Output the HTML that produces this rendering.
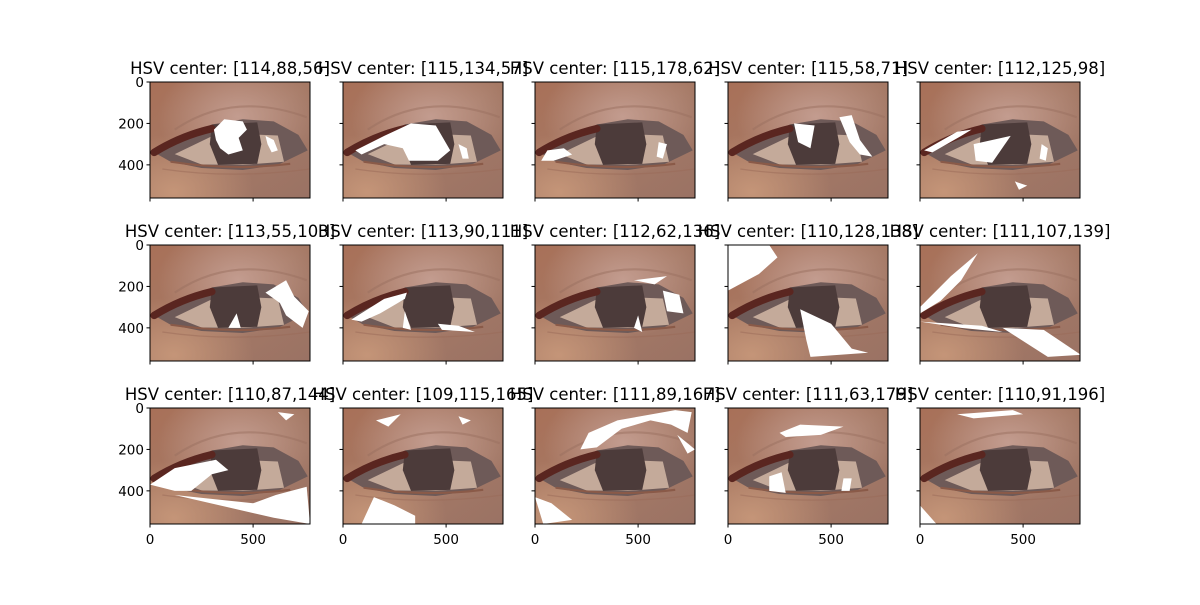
<!DOCTYPE html>
<html><head><meta charset="utf-8"><style>
body{margin:0;background:#fff;}
svg text{font-family:"DejaVu Sans","Liberation Sans",sans-serif;}
</style></head><body>
<svg id="fig" width="1200" height="600">
<defs>
<linearGradient id="skin" x1="0" y1="0" x2="1" y2="1">
<stop offset="0" stop-color="#a87058"/><stop offset="0.5" stop-color="#a67a66"/><stop offset="1" stop-color="#9a7264"/>
</linearGradient>
<radialGradient id="cheek" cx="0.15" cy="0.95" r="0.5">
<stop offset="0" stop-color="#c8987a" stop-opacity="0.9"/><stop offset="1" stop-color="#c8987a" stop-opacity="0"/>
</radialGradient>
<radialGradient id="lid" cx="0.55" cy="0.3" r="0.5">
<stop offset="0" stop-color="#c6a094" stop-opacity="0.9"/><stop offset="1" stop-color="#c6a094" stop-opacity="0"/>
</radialGradient>
<g id="eye">
<rect x="0" y="0" width="776" height="560" fill="url(#skin)"/>
<rect x="0" y="0" width="776" height="560" fill="url(#cheek)"/>
<rect x="0" y="0" width="776" height="560" fill="url(#lid)"/>
<path d="M120,230 Q400,40 760,170" fill="none" stroke="#9a7060" stroke-width="10" opacity="0.5"/>
<path d="M20,340 L150,270 L300,205 L450,180 L600,190 L720,255 L765,330 L620,400 L450,425 L250,415 L100,385 Z" fill="#6e5a58"/>
<path d="M120,348 L300,262 L420,250 L620,258 L650,385 L450,400 L250,398 Z" fill="#c4aa9a"/>
<path d="M300,205 L520,195 L540,300 L520,395 L330,400 L290,300 Z" fill="#4c3b3a"/>
<path d="M20,340 Q150,260 300,225" fill="none" stroke="#5a2620" stroke-width="36" stroke-linecap="round"/>
<path d="M100,385 Q400,430 680,395" fill="none" stroke="#8a5a48" stroke-width="10"/>
<path d="M60,420 Q400,470 776,420" fill="none" stroke="#9a6a58" stroke-width="6" opacity="0.5"/>
</g>
</defs>
<g id="panels"></g>
</svg>
<script>
const titles=["[114,88,56]","[115,134,57]","[115,178,62]","[115,58,71]","[112,125,98]",
"[113,55,103]","[113,90,111]","[112,62,136]","[110,128,138]","[111,107,139]",
"[110,87,144]","[109,115,165]","[111,89,167]","[111,63,179]","[110,91,196]"];
const blobs=[
["310,230 360,180 450,190 470,230 430,270 450,330 380,350 340,320 320,280","560,260 600,280 620,330 590,340 570,300"],
["60,330 200,260 330,200 450,210 520,330 460,380 320,380 290,320 200,300 90,350","560,300 600,320 610,370 580,370"],
["30,380 60,330 140,320 180,350 90,380","600,290 640,300 620,370 590,360"],
["320,200 420,210 400,320 340,290","540,170 600,160 640,280 700,360 640,350 590,290"],
["20,330 180,240 250,230 200,260 60,340","260,300 440,260 350,390 270,380","590,300 620,320 610,380 580,370","460,480 520,500 480,520"],
["560,230 660,170 700,250 770,320 740,400 660,340 630,280","380,400 420,330 440,400"],
["40,360 200,260 310,230 300,260 180,330 90,370","290,400 300,320 330,410","460,380 560,390 640,420 480,410"],
["480,170 640,150 580,190","620,220 700,240 720,330 640,320","500,340 520,420 480,400"],
["0,0 200,0 240,60 150,140 0,220","350,310 500,380 600,500 680,520 400,540 380,460"],
["0,300 150,150 280,40 200,170 100,270 0,330","400,400 600,410 780,530 620,540","0,370 300,390 400,420 200,400"],
["0,370 120,290 320,250 380,300 300,320 200,400 120,400","120,420 500,460 610,420 760,380 776,560 600,530","620,20 700,30 660,60"],
["150,430 250,470 350,520 350,560 90,560","160,60 280,30 220,90","560,40 620,60 580,80"],
["0,430 80,460 180,540 40,560","220,200 260,120 400,60 680,10 760,20 740,120 660,80 560,60 420,100 300,190","690,130 776,200 740,220"],
["250,120 350,80 560,90 450,130 280,140","200,330 260,310 280,410 200,400","560,340 600,340 590,400 550,400"],
["180,30 450,10 500,30 260,50","0,470 80,560 0,560"]
];
const colX=[150,343,535,728,920], rowY=[82,245,408], W=160, H=116, IW=776, IH=560;
const sx=v=>v*W/IW, sy=v=>v*H/IH;
const yTicks=[0,200,400], xTicks=[0,500];
const g=document.getElementById('panels');
const NS='http://www.w3.org/2000/svg';
function mk(t,a,p){const e=document.createElementNS(NS,t);for(const k in a)e.setAttribute(k,a[k]);p.appendChild(e);return e;}
titles.forEach((t,i)=>{
 const r=Math.floor(i/5),c=i%5,x0=colX[c],y0=rowY[r];
 const pg=mk('g',{transform:`translate(${x0},${y0})`},g);
 
 
 const im=mk('svg',{x:0,y:0,width:W,height:H,viewBox:`0 0 ${IW} ${IH}`,preserveAspectRatio:'none'},pg);
 
 
 mk('use',{href:'#eye'},im);
 blobs[i].forEach(b=>{const p=mk('polygon',{points:b,fill:'#fff'},im);
  
  });
 const fr=mk('rect',{x:0,y:0,width:W,height:H,fill:'none',stroke:'#000','stroke-width':1},pg);
 
 
 yTicks.forEach(v=>{mk('line',{x1:-3.5,x2:0,y1:sy(v),y2:sy(v),stroke:'#000'},pg);
  if(c===0){const tx=mk('text',{x:-6,y:sy(v)+5,'text-anchor':'end','font-size':13.5},pg);tx.textContent=v;
   
   }});
 xTicks.forEach(v=>{mk('line',{x1:sx(v),x2:sx(v),y1:H,y2:H+3.5,stroke:'#000'},pg);
  if(r===2){const tx=mk('text',{x:sx(v),y:H+20,'text-anchor':'middle','font-size':13.5},pg);tx.textContent=v;
   
   }});
 const tt=mk('text',{x:W/2,y:-8,'text-anchor':'middle','font-size':16.5},pg);
 tt.textContent='HSV center: '+t;
 
 
});
</script>
</body></html>
